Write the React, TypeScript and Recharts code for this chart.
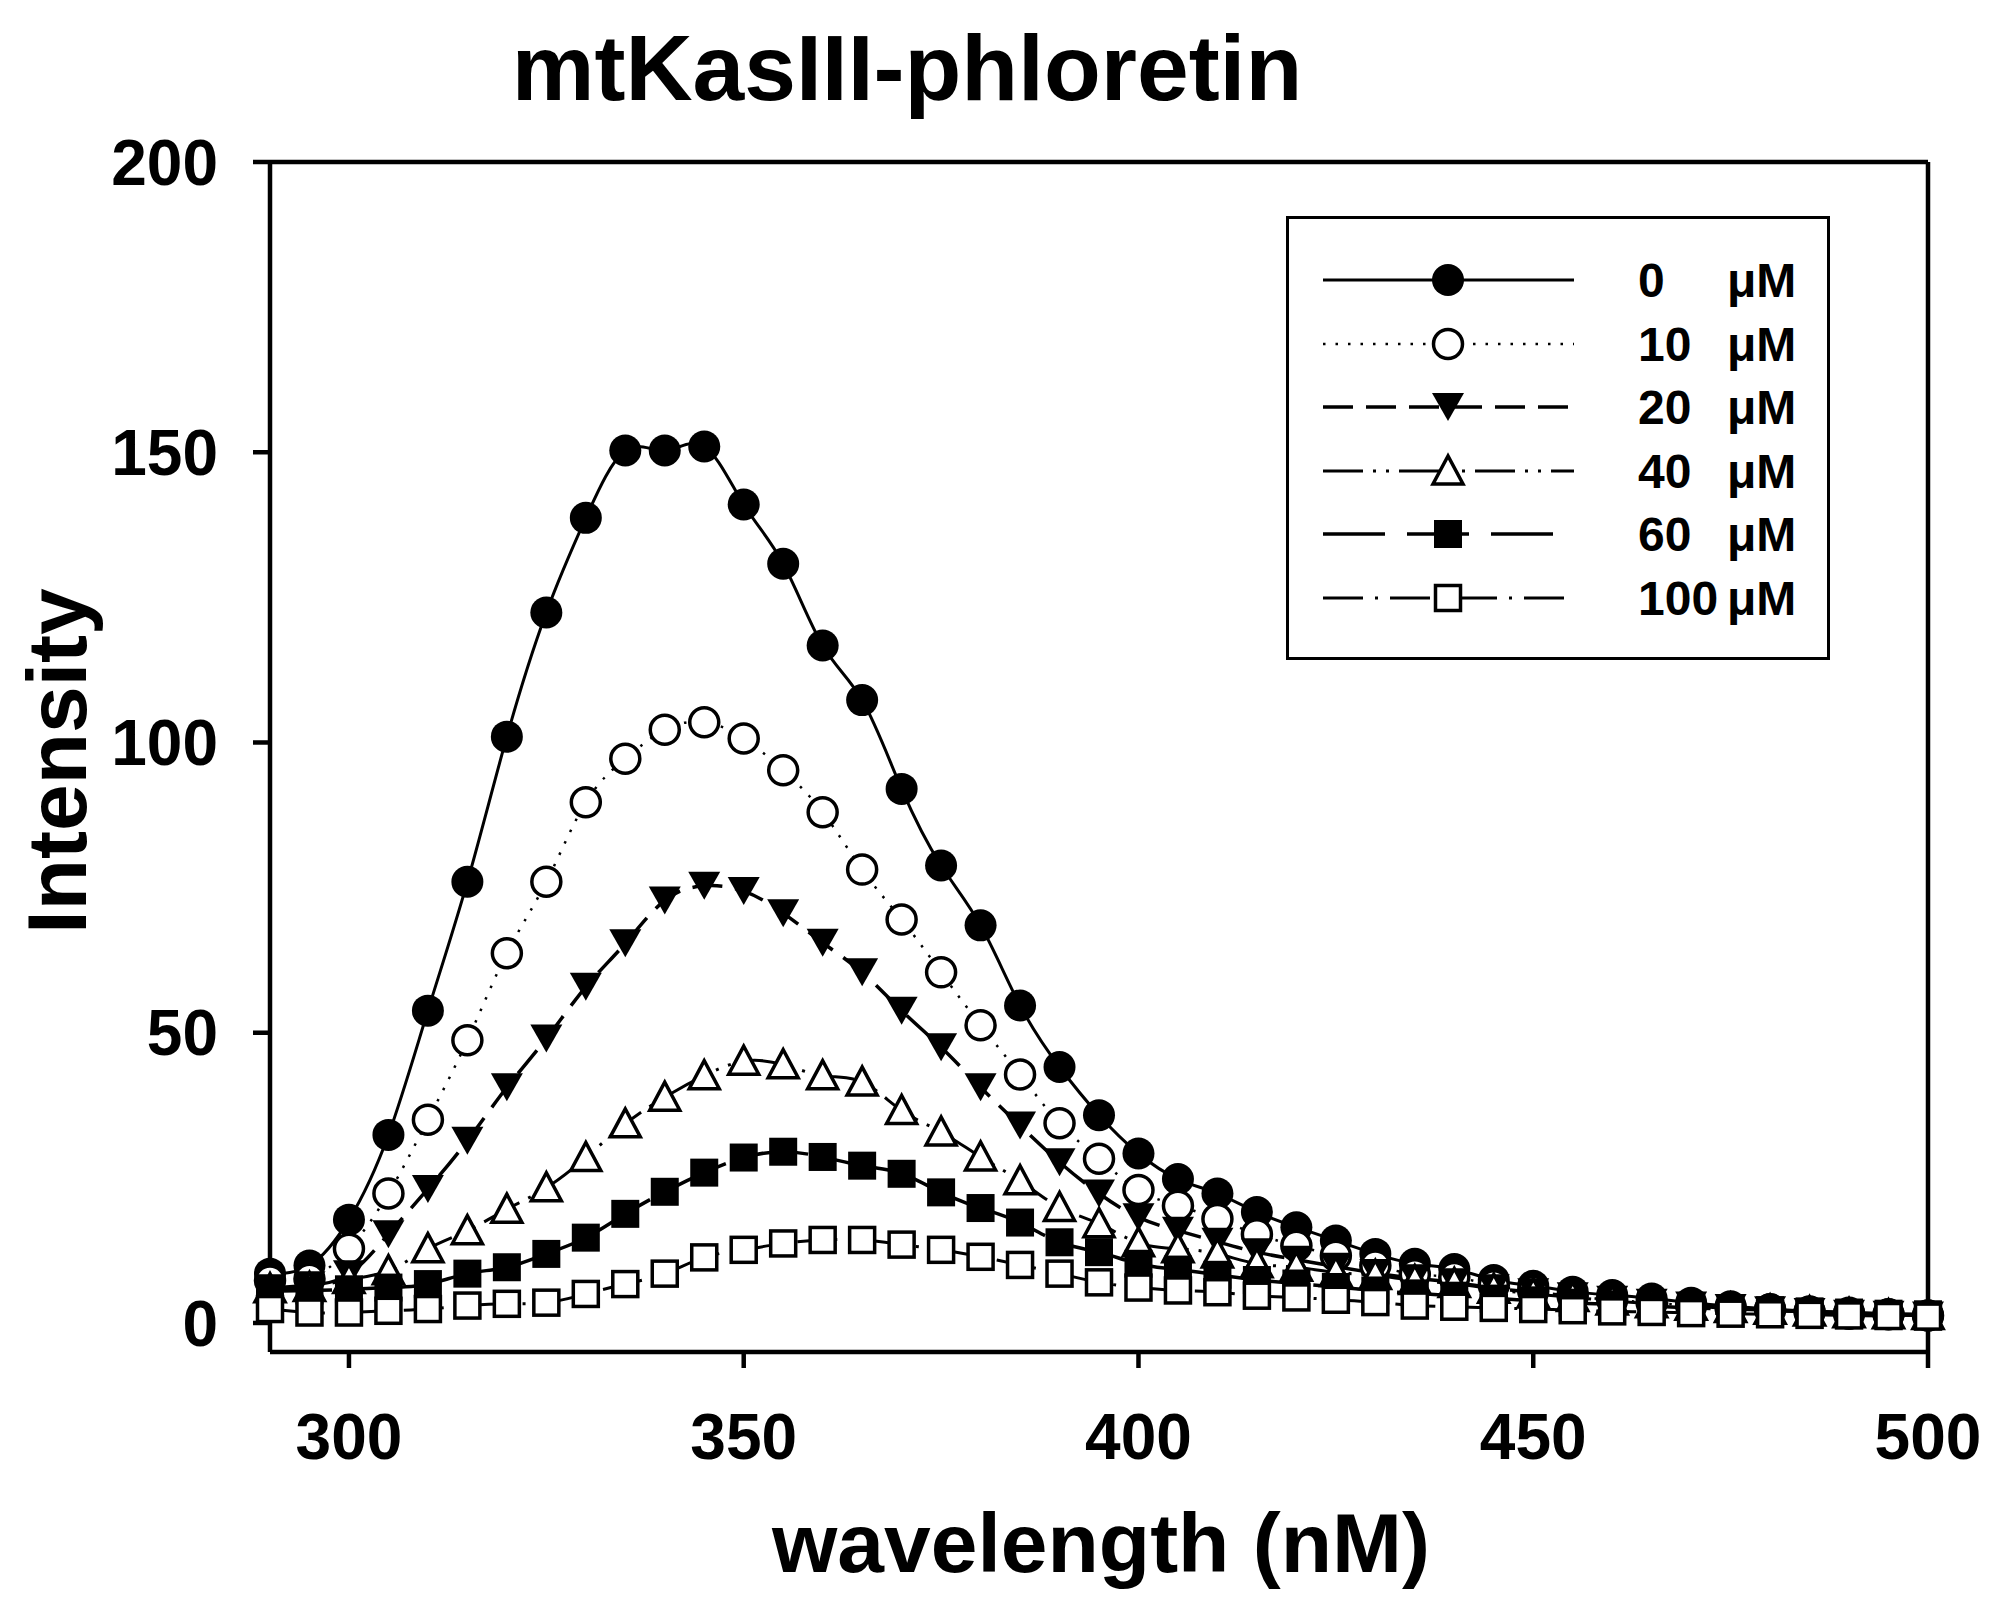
import React from "react";
import {
  LineChart,
  Line,
  XAxis,
  YAxis,
  ReferenceLine,
  Legend,
} from "recharts";

// wavelength (nm), one reading every 5 nm
const wavelengths = [
  290, 295, 300, 305, 310, 315, 320, 325, 330, 335, 340, 345, 350, 355, 360,
  365, 370, 375, 380, 385, 390, 395, 400, 405, 410, 415, 420, 425, 430, 435,
  440, 445, 450, 455, 460, 465, 470, 475, 480, 485, 490, 495, 500,
];

const intensity0 = [
  8.5, 9.9, 17.8, 32.4, 53.8, 76, 101, 122.4, 138.7, 150.3, 150.3, 151, 141,
  130.8, 116.7, 107.3, 92, 78.8, 68.5, 54.7, 44.1, 35.8, 29.2, 24.8, 22.3,
  19.1, 16.5, 14.2, 11.9, 10.2, 9.3, 7.4, 6.4, 5.4, 4.8, 4.2, 3.5, 2.9, 2.4,
  2.0, 1.8, 1.5, 1.3,
];
const intensity10 = [
  7.3, 7.6, 12.8, 22.3, 35, 48.7, 63.7, 76, 89.7, 97.2, 102.2, 103.5, 100.7,
  95.2, 88, 78.1, 69.5, 60.4, 51.3, 42.8, 34.4, 28.3, 22.9, 20.2, 17.9, 15.3,
  13.3, 11.6, 9.9, 8.4, 7.9, 6.5, 5.5, 4.6, 4.0, 3.5, 3.0, 2.6, 2.3, 1.9, 1.6,
  1.5, 1.3,
];
const intensity20 = [
  6.0, 6.5, 8.4, 15.3, 23.1, 31.4, 40.6, 49, 57.9, 65.4, 72.8, 75.3, 74.4,
  70.6, 65.5, 60.4, 53.8, 47.5, 40.6, 34, 27.7, 22.3, 18.2, 15.9, 14, 12.2,
  10.9, 9.7, 8.6, 7.7, 7.0, 6.0, 5.3, 4.6, 4.0, 3.5, 3.0, 2.6, 2.2, 1.9, 1.6,
  1.4, 1.3,
];
const intensity40 = [
  5.9, 6.1, 7.5, 9, 12.8, 15.9, 19.6, 23.3, 28.5, 34.3, 38.9, 42.6, 45.1,
  44.5, 42.6, 41.5, 36.6, 32.9, 28.6, 24.5, 19.9, 17.1, 13.8, 12.8, 11.9,
  10.2, 9.6, 8.7, 8.2, 7.3, 6.8, 5.8, 5.0, 4.4, 3.8, 3.3, 2.9, 2.5, 2.2, 1.9,
  1.6, 1.4, 1.3,
];
const intensity60 = [
  5.5, 5.6, 5.8, 6.1, 6.7, 8.5, 9.6, 11.9, 14.7, 18.8, 22.6, 25.9, 28.5, 29.5,
  28.6, 27.1, 25.7, 22.5, 19.8, 17.3, 13.9, 12.2, 10.2, 9.2, 8.3, 7.4, 6.8,
  6.2, 5.6, 5.1, 4.7, 4.2, 3.9, 3.5, 3.2, 2.9, 2.6, 2.4, 2.2, 2.0, 1.8, 1.6,
  1.5,
];
const intensity100 = [
  2.4, 1.8, 1.8, 2.1, 2.4, 3.0, 3.3, 3.5, 5, 6.7, 8.5, 11.3, 12.6, 13.7, 14.3,
  14.3, 13.5, 12.6, 11.4, 10, 8.5, 7, 6.1, 5.6, 5.3, 4.7, 4.4, 4.0, 3.6, 3.0,
  2.8, 2.6, 2.4, 2.2, 2.0, 1.9, 1.7, 1.6, 1.5, 1.4, 1.3, 1.2, 1.1,
];

const concentrations = ["0", "10", "20", "40", "60", "100"];
const xTicks = [300, 350, 400, 450, 500];
const yTicks = [0, 50, 100, 150, 200];

const FONT = '"Liberation Sans", Arial, Helvetica, sans-serif';

const rows = wavelengths.map((wl, i) => ({
  wl,
  c0: intensity0[i],
  c10: intensity10[i],
  c20: intensity20[i],
  c40: intensity40[i],
  c60: intensity60[i],
  c100: intensity100[i],
}));

const series = [
  { key: "c0", marker: "filledCircle", dash: undefined, width: 3 },
  { key: "c10", marker: "openCircle", dash: "2.5 10", width: 2.5 },
  { key: "c20", marker: "filledDown", dash: "30 13", width: 3.5 },
  { key: "c40", marker: "openUp", dash: "40 10 3 10 3 10", width: 3 },
  { key: "c60", marker: "filledSquare", dash: "62 22", width: 3.5 },
  { key: "c100", marker: "openSquare", dash: "40 12 3 12", width: 3 },
];

function Marker({ kind, cx, cy }: { kind: string; cx: number; cy: number }) {
  if (cx == null || cy == null) return null;
  switch (kind) {
    case "filledCircle":
      return <circle cx={cx} cy={cy} r={16} fill="#000" />;
    case "openCircle":
      return (
        <circle cx={cx} cy={cy} r={14.5} fill="#fff" stroke="#000" strokeWidth={3.5} />
      );
    case "filledDown":
      return (
        <polygon
          points={`${cx - 16},${cy - 14} ${cx + 16},${cy - 14} ${cx},${cy + 14}`}
          fill="#000"
        />
      );
    case "openUp":
      return (
        <polygon
          points={`${cx},${cy - 15} ${cx - 15},${cy + 13} ${cx + 15},${cy + 13}`}
          fill="#fff"
          stroke="#000"
          strokeWidth={3.5}
          strokeLinejoin="miter"
        />
      );
    case "filledSquare":
      return <rect x={cx - 14} y={cy - 14} width={28} height={28} fill="#000" />;
    default:
      return (
        <rect
          x={cx - 12.5}
          y={cy - 12.5}
          width={25}
          height={25}
          fill="#fff"
          stroke="#000"
          strokeWidth={3.5}
        />
      );
  }
}

function LegendBox() {
  const rowY = [64, 128, 191, 255, 318, 382];
  return (
    <svg width={544} height={444} style={{ display: "block" }}>
      <rect x={1.5} y={1.5} width={541} height={441} fill="#fff" stroke="#000" strokeWidth={3} />
      {series.map((s, i) => (
        <g key={s.key}>
          <line
            x1={37}
            x2={288}
            y1={rowY[i]}
            y2={rowY[i]}
            stroke="#000"
            strokeWidth={s.width}
            strokeDasharray={s.dash}
          />
          <Marker kind={s.marker} cx={162} cy={rowY[i]} />
          <text
            x={352}
            y={rowY[i] + 17}
            fontFamily={FONT}
            fontWeight="bold"
            fontSize={48}
            fill="#000"
          >
            {concentrations[i]}
          </text>
          <text
            x={441}
            y={rowY[i] + 17}
            fontFamily={FONT}
            fontWeight="bold"
            fontSize={48}
            fill="#000"
          >
            μM
          </text>
        </g>
      ))}
    </svg>
  );
}

const tickStyle = { fontSize: 64, fontWeight: "bold", fill: "#000", fontFamily: FONT };
const axisStroke = { stroke: "#000", strokeWidth: 4.5 };

export default function App() {
  return (
    <div style={{ position: "absolute", left: 0, top: 0, width: 1994, height: 1608, background: "#fff" }}>
      <svg
        width={1994}
        height={160}
        style={{ position: "absolute", left: 0, top: 0, zIndex: 2 }}
      >
        <text
          x={907}
          y={100}
          textAnchor="middle"
          fontFamily={FONT}
          fontWeight="bold"
          fontSize={93}
          fill="#000"
        >
          mtKasIII-phloretin
        </text>
      </svg>
      <LineChart
        width={1994}
        height={1608}
        data={rows}
        margin={{ top: 162, right: 66, bottom: 156, left: 70 }}
      >
        <XAxis
          dataKey="wl"
          type="number"
          domain={[290, 500]}
          ticks={xTicks}
          height={100}
          tickSize={16}
          tickMargin={46}
          tick={tickStyle}
          axisLine={axisStroke}
          tickLine={axisStroke}
          label={{
            content: () => (
              <text
                x={1101}
                y={1572}
                textAnchor="middle"
                fontFamily={FONT}
                fontWeight="bold"
                fontSize={84}
                fill="#000"
              >
                wavelength (nM)
              </text>
            ),
          }}
        />
        <YAxis
          type="number"
          domain={[-5, 200]}
          ticks={yTicks}
          width={200}
          tickSize={17}
          tickMargin={35}
          tick={tickStyle}
          axisLine={axisStroke}
          tickLine={axisStroke}
          label={{
            content: () => (
              <text
                x={86}
                y={761}
                transform="rotate(-90 86 761)"
                textAnchor="middle"
                fontFamily={FONT}
                fontWeight="bold"
                fontSize={84}
                fill="#000"
              >
                Intensity
              </text>
            ),
          }}
        />
        <ReferenceLine y={200} stroke="#000" strokeWidth={4.5} />
        <ReferenceLine x={500} stroke="#000" strokeWidth={4.5} />
        {series.map((s) => (
          <Line
            key={s.key}
            dataKey={s.key}
            type="natural"
            stroke="#000"
            strokeWidth={s.width}
            strokeDasharray={s.dash}
            isAnimationActive={false}
            activeDot={false}
            dot={(p: any) => (
              <Marker key={`${s.key}-${p.index}`} kind={s.marker} cx={p.cx} cy={p.cy} />
            )}
          />
        ))}
        <Legend
          layout="horizontal"
          verticalAlign="middle"
          align="center"
          wrapperStyle={{ left: 1286, top: 216, width: 544, height: 444 }}
          content={() => <LegendBox />}
        />
      </LineChart>
    </div>
  );
}
